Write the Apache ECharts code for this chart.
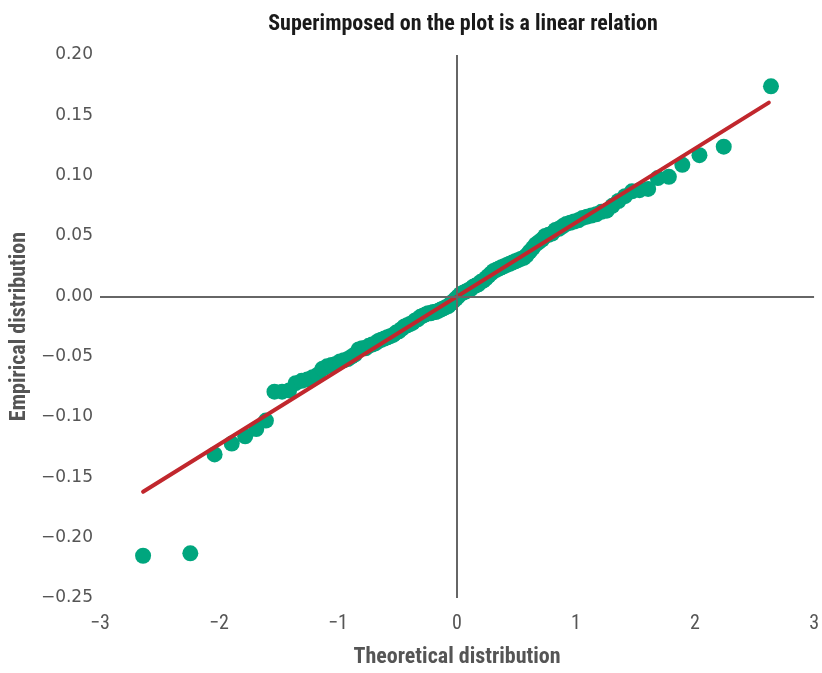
<!DOCTYPE html>
<html>
<head>
<meta charset="utf-8">
<script src="https://cdn.jsdelivr.net/npm/echarts@6/dist/echarts.min.js"></script>
<style>html,body{margin:0;padding:0;background:#fff;overflow:hidden}#c{width:822px;height:673px}</style>
</head>
<body>
<div id="c"></div>
<script>
// Theoretical quantiles (x) and empirical values (y)
const theoretical = [
-2.638,-2.241,-2.037,-1.893,-1.780,-1.687,-1.606,-1.534,-1.470,-1.411,
-1.356,-1.305,-1.258,-1.213,-1.170,-1.130,-1.092,-1.055,-1.019,-0.984,
-0.951,-0.918,-0.887,-0.856,-0.827,-0.798,-0.769,-0.741,-0.714,-0.687,
-0.661,-0.636,-0.610,-0.585,-0.561,-0.536,-0.512,-0.489,-0.465,-0.442,
-0.419,-0.396,-0.374,-0.352,-0.330,-0.308,-0.286,-0.264,-0.243,-0.221,
-0.200,-0.179,-0.157,-0.136,-0.115,-0.094,-0.073,-0.052,-0.031,-0.010,
0.010,0.031,0.052,0.073,0.094,0.115,0.136,0.157,0.179,0.200,
0.221,0.243,0.264,0.286,0.308,0.330,0.352,0.374,0.396,0.419,
0.442,0.465,0.489,0.512,0.536,0.561,0.585,0.610,0.636,0.661,
0.687,0.714,0.741,0.769,0.798,0.827,0.856,0.887,0.918,0.951,
0.984,1.019,1.055,1.092,1.130,1.170,1.213,1.258,1.305,1.356,
1.411,1.470,1.534,1.606,1.687,1.780,1.893,2.037,2.241,2.638
];
const empirical = [
-0.215,-0.213,-0.131,-0.122,-0.116,-0.110,-0.103,-0.079,-0.079,-0.078,
-0.072,-0.070,-0.069,-0.067,-0.065,-0.060,-0.058,-0.057,-0.056,-0.054,
-0.053,-0.052,-0.050,-0.048,-0.044,-0.043,-0.043,-0.041,-0.040,-0.039,
-0.037,-0.036,-0.035,-0.034,-0.033,-0.032,-0.030,-0.029,-0.027,-0.025,
-0.024,-0.023,-0.022,-0.020,-0.019,-0.017,-0.016,-0.015,-0.014,-0.014,
-0.013,-0.013,-0.012,-0.011,-0.010,-0.009,-0.008,-0.006,-0.004,-0.002,
0.000,0.002,0.003,0.004,0.005,0.006,0.008,0.009,0.010,0.012,
0.013,0.015,0.017,0.019,0.021,0.022,0.023,0.024,0.025,0.026,
0.027,0.028,0.029,0.030,0.031,0.032,0.034,0.037,0.040,0.043,
0.045,0.047,0.050,0.051,0.052,0.055,0.056,0.058,0.060,0.061,
0.062,0.063,0.065,0.066,0.067,0.068,0.070,0.071,0.075,0.079,
0.083,0.087,0.088,0.089,0.098,0.099,0.109,0.117,0.124,0.174
];
// Fitted linear relation endpoints
const fitX = [-2.638, 2.62];
const fitY = [-0.162, 0.1605];

const xTicks = {min: -3, max: 3, interval: 1};
const yTicks = {min: -0.25, max: 0.20, interval: 0.05};

const NARROW = "'Liberation Sans Narrow','Roboto Condensed',sans-serif";
const minus = s => s.replace('-', '\u2212');

const chart = echarts.init(document.getElementById('c'), null, {renderer: 'canvas', width: 822, height: 673});
chart.setOption({
  animation: false,
  backgroundColor: '#ffffff',
  title: {
    text: 'Superimposed on the plot is a linear relation',
    left: 458, top: 8, textAlign: 'center',
    textStyle: {fontFamily: NARROW, fontWeight: 'bold', fontSize: 22, color: '#1a1a1a'}
  },
  grid: {left: 97, right: 4, top: 55, bottom: 63, containLabel: false},
  xAxis: {
    type: 'value', min: xTicks.min, max: xTicks.max, interval: xTicks.interval,
    name: 'Theoretical distribution', nameLocation: 'middle', nameGap: 48,
    nameTextStyle: {fontFamily: NARROW, fontWeight: 'bold', fontSize: 22, color: '#555'},
    axisLine: {show: false}, axisTick: {show: false}, splitLine: {show: false},
    axisLabel: {fontFamily: NARROW, fontSize: 20, color: '#555', margin: 16,
      formatter: v => minus(String(v))}
  },
  yAxis: {
    type: 'value', min: yTicks.min, max: yTicks.max, interval: yTicks.interval,
    name: 'Empirical distribution', nameLocation: 'middle', nameGap: 70,
    nameTextStyle: {fontFamily: NARROW, fontWeight: 'bold', fontSize: 22, color: '#555'},
    axisLine: {show: false}, axisTick: {show: false}, splitLine: {show: false},
    axisLabel: {fontFamily: "'DejaVu Sans',sans-serif", fontSize: 17, color: '#555', margin: 7,
      formatter: v => minus(v.toFixed(2))}
  },
  series: [
    {
      type: 'scatter', symbolSize: 16, z: 2,
      itemStyle: {color: '#00a67e', opacity: 1},
      data: theoretical.map((x, i) => [x, empirical[i]]),
      markLine: {
        silent: true, symbol: 'none', animation: false,
        label: {show: false},
        lineStyle: {color: '#666', width: 2, type: 'solid'},
        data: [{xAxis: 0}, {yAxis: 0}]
      }
    },
    {
      type: 'line', z: 3, symbol: 'none',
      lineStyle: {color: '#c1272d', width: 4, cap: 'round'},
      data: fitX.map((x, i) => [x, fitY[i]])
    }
  ]
});
</script>
</body>
</html>
